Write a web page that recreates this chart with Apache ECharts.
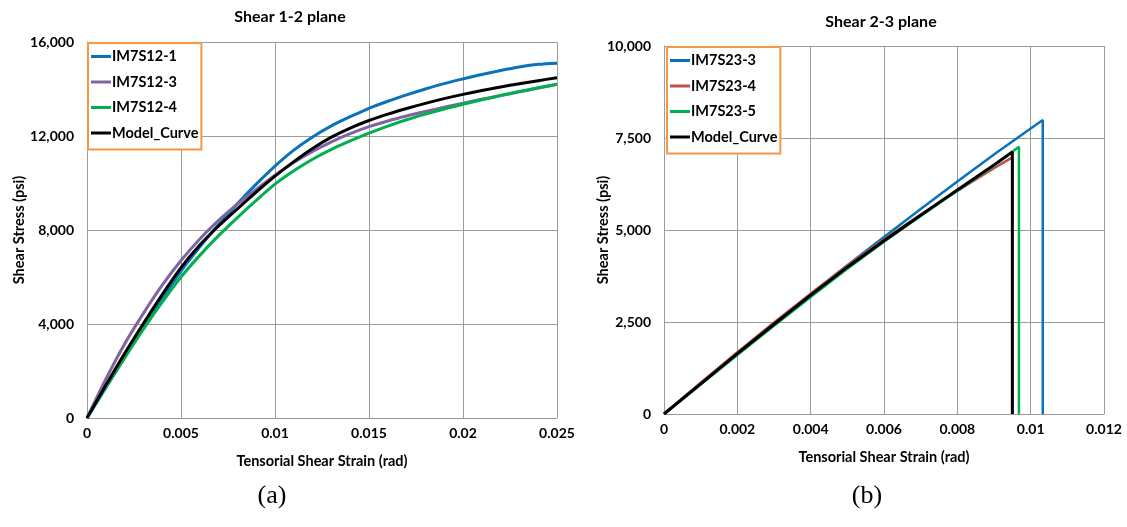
<!DOCTYPE html>
<html>
<head>
<meta charset="utf-8">
<script src="https://cdn.jsdelivr.net/npm/echarts@6/dist/echarts.min.js"></script>
<style>
html,body{margin:0;padding:0;background:#fff;}
#chart{width:1127px;height:527px;}
</style>
</head>
<body>
<div id="chart"></div>
<script>
// ---- Shear 1-2 plane ----
const strain12 = [0, 0.001, 0.002, 0.003, 0.004, 0.005, 0.006, 0.007, 0.008, 0.009, 0.010, 0.011, 0.012, 0.013, 0.014, 0.015, 0.016, 0.017, 0.018, 0.019, 0.020, 0.021, 0.022, 0.023, 0.024, 0.025];
const s12_1 = [0, 1290, 2580, 3840, 5080, 6250, 7280, 8230, 9120, 9950, 10720, 11400, 11960, 12430, 12820, 13180, 13480, 13750, 14000, 14230, 14430, 14620, 14790, 14940, 15050, 15100];
const s12_3 = [0, 1650, 3150, 4450, 5650, 6700, 7620, 8410, 9100, 9730, 10330, 10870, 11340, 11750, 12100, 12400, 12640, 12850, 13040, 13220, 13390, 13560, 13720, 13880, 14040, 14200];
const s12_4 = [0, 1300, 2560, 3780, 4930, 6000, 6920, 7760, 8530, 9260, 9950, 10520, 11010, 11430, 11790, 12120, 12420, 12690, 12930, 13150, 13350, 13540, 13720, 13890, 14050, 14200];
const s12_model = [0, 1390, 2740, 4020, 5250, 6400, 7360, 8170, 8900, 9610, 10290, 10910, 11470, 11950, 12340, 12660, 12930, 13170, 13390, 13590, 13770, 13935, 14085, 14225, 14355, 14480];
const names12 = ['IM7S12-1', 'IM7S12-3', 'IM7S12-4', 'Model_Curve'];
const colors12 = ['#0a72ba', '#8064a2', '#00b050', '#000000'];
const xTicks12 = {min: 0, max: 0.025, interval: 0.005};
const yTicks12 = {min: 0, max: 16000, interval: 4000};

// ---- Shear 2-3 plane ----
const strain23_3 = [0, 0.001, 0.002, 0.003, 0.004, 0.005, 0.006, 0.007, 0.008, 0.009, 0.010, 0.01033, 0.01033];
const s23_3 = [0, 830, 1650, 2460, 3260, 4040, 4810, 5570, 6320, 7050, 7760, 7990, 0];
const strain23_4 = [0, 0.001, 0.002, 0.003, 0.004, 0.005, 0.006, 0.007, 0.008, 0.009, 0.0095, 0.0095];
const s23_4 = [0, 850, 1680, 2490, 3270, 4030, 4750, 5420, 6060, 6680, 6975, 0];
const strain23_5 = [0, 0.001, 0.002, 0.003, 0.004, 0.005, 0.006, 0.007, 0.008, 0.009, 0.00968, 0.00968];
const s23_5 = [0, 800, 1600, 2400, 3180, 3950, 4680, 5380, 6070, 6750, 7260, 0];
const strain23_model = [0, 0.001, 0.002, 0.003, 0.004, 0.005, 0.006, 0.007, 0.008, 0.009, 0.0095, 0.0095];
const s23_model = [0, 820, 1640, 2440, 3230, 3990, 4710, 5400, 6090, 6770, 7120, 0];
const names23 = ['IM7S23-3', 'IM7S23-4', 'IM7S23-5', 'Model_Curve'];
const colors23 = ['#0a72ba', '#c0504d', '#00b050', '#000000'];
const xTicks23 = {min: 0, max: 0.012, interval: 0.002};
const yTicks23 = {min: 0, max: 10000, interval: 2500};

const titles = ['Shear 1-2 plane', 'Shear 2-3 plane'];
const xName = 'Tensorial Shear Strain (rad)';
const yName = 'Shear Stress (psi)';
const panelLabels = ['(a)', '(b)'];

const zip = (xs, ys) => xs.map((x, i) => [x, ys[i]]);
const FONT = 'Lato';
const gridColor = '#9c9c9c';

function xAxis(gridIndex, t, nameGap) {
  return {
    type: 'value', gridIndex, min: t.min, max: t.max, interval: t.interval,
    name: xName, nameLocation: 'middle', nameGap,
    nameTextStyle: {fontFamily: FONT, fontWeight: 'bold', fontSize: 14.5, color: '#000'},
    axisLine: {show: true, lineStyle: {color: gridColor, width: 1}},
    axisTick: {show: false},
    splitLine: {show: true, lineStyle: {color: gridColor, width: 1}},
    axisLabel: {fontFamily: FONT, fontWeight: 'bold', fontSize: 14, color: '#000', margin: 8,
      formatter: v => v === 0 ? '0' : String(+v.toFixed(4))}
  };
}
function yAxis(gridIndex, t, nameGap) {
  return {
    type: 'value', gridIndex, min: t.min, max: t.max, interval: t.interval,
    name: yName, nameLocation: 'middle', nameGap, nameMoveOverlap: false,
    nameTextStyle: {fontFamily: FONT, fontWeight: 'bold', fontSize: 14.5, color: '#000'},
    axisLine: {show: true, lineStyle: {color: gridColor, width: 1}},
    axisTick: {show: false},
    splitLine: {show: true, lineStyle: {color: gridColor, width: 1}},
    axisLabel: {fontFamily: FONT, fontWeight: 'bold', fontSize: 14, color: '#000', margin: 13,
      formatter: v => v.toLocaleString('en-US')}
  };
}
function legend(data, left, top) {
  return {
    data, left, top, orient: 'vertical',
    backgroundColor: '#fff', borderColor: '#f79646', borderWidth: 2, borderRadius: 0,
    padding: [6, 3, 9, 3], itemGap: 10.5, itemWidth: 20, itemHeight: 3, icon: 'rect',
    textStyle: {fontFamily: FONT, fontWeight: 'bold', fontSize: 14.5, color: '#000', padding: [0, 0, 0, -4]}
  };
}

const series = [];
[s12_1, s12_3, s12_4, s12_model].forEach((ys, i) => {
  series.push({
    name: names12[i], type: 'line', xAxisIndex: 0, yAxisIndex: 0,
    data: zip(strain12, ys), showSymbol: false, symbol: 'none', smooth: 0.3,
    lineStyle: {color: colors12[i], width: 3}, itemStyle: {color: colors12[i]}, z: 2 + i
  });
});
[[strain23_3, s23_3], [strain23_4, s23_4], [strain23_5, s23_5], [strain23_model, s23_model]].forEach((p, i) => {
  series.push({
    name: names23[i], type: 'line', xAxisIndex: 1, yAxisIndex: 1,
    data: zip(p[0], p[1]), showSymbol: false, symbol: 'none',
    lineStyle: {color: colors23[i], width: i === 3 ? 3 : 2.5}, itemStyle: {color: colors23[i]}, z: 2 + i
  });
});

const chart = echarts.init(document.getElementById('chart'), null, {renderer: 'canvas'});
chart.setOption({
  animation: false,
  backgroundColor: '#fff',
  grid: [
    {left: 87, top: 42, width: 470, height: 376},
    {left: 664, top: 46, width: 440, height: 368}
  ],
  xAxis: [xAxis(0, xTicks12, 36), xAxis(1, xTicks23, 36)],
  yAxis: [yAxis(0, yTicks12, 60), yAxis(1, yTicks23, 53)],
  legend: [legend(names12, 88, 43), legend(names23, 667, 47)],
  series,
  graphic: [
    {type: 'text', x: 290, y: 17, silent: true, style: {text: titles[0], fontFamily: FONT, fontWeight: 'bold', fontSize: 16, fill: '#000', align: 'center', verticalAlign: 'middle'}},
    {type: 'text', x: 881, y: 22, silent: true, style: {text: titles[1], fontFamily: FONT, fontWeight: 'bold', fontSize: 16, fill: '#000', align: 'center', verticalAlign: 'middle'}},
    {type: 'text', x: 272, y: 496, silent: true, style: {text: panelLabels[0], fontFamily: 'Liberation Serif', fontSize: 26, fill: '#000', align: 'center', verticalAlign: 'middle'}},
    {type: 'text', x: 867, y: 496, silent: true, style: {text: panelLabels[1], fontFamily: 'Liberation Serif', fontSize: 26, fill: '#000', align: 'center', verticalAlign: 'middle'}}
  ]
});
</script>
</body>
</html>
